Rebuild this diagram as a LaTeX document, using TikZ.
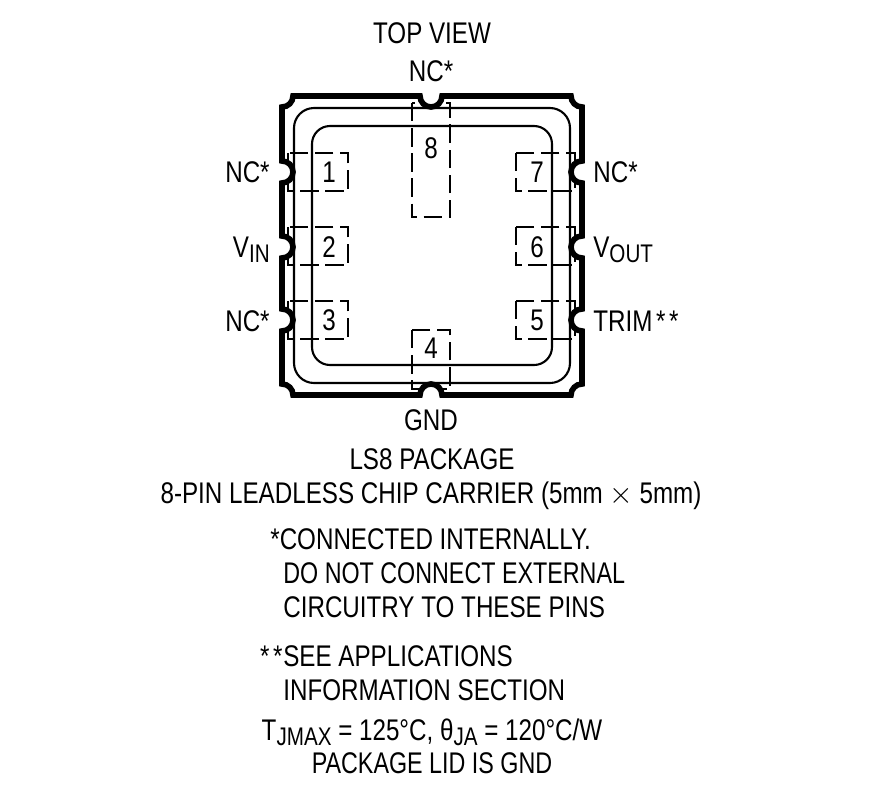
\documentclass[tikz,border=0pt]{standalone}
\usepackage{fontspec}
\setmainfont[FakeStretch=0.81]{Liberation Sans}
\newfontface\tightface[FakeStretch=0.78]{Liberation Sans}
\usepackage{tikz}
\newcommand{\drawoutline}{\draw[line width=3.2pt,line join=miter]}
\newcommand{\drawring}{\draw[line width=1.2pt]}
\newcommand{\lowtext}[1]{\raisebox{-.35ex}{\fontsize{14.5}{15}\selectfont #1}}
\newcommand{\spacedstars}{*\kern.12em*}
\newcommand{\pinbox}[5]{
    \draw[line width=1.4pt,dash pattern=on 10.5pt off 3.8pt] (#2,-#3) rectangle (#4,-#5);
}
\tikzset{
    lbl/.style={inner sep=0pt,font=\fontsize{17}{19}\selectfont,anchor=base},
    lblw/.style={lbl,anchor=base west},
    lble/.style={lbl,anchor=base east},
    pinnum/.style={inner sep=0pt,font=\fontsize{17}{19}\selectfont,anchor=center}
}

\begin{document}
\begin{tikzpicture}[x=0.02cm,y=0.02cm]
\useasboundingbox (0,0) rectangle (875,-792);
% dashed pads
\pinbox{1}{288}{153}{348}{191}
\pinbox{2}{288}{227}{348}{265}
\pinbox{3}{288}{301}{348}{339}
\pinbox{4}{412}{330}{450}{389}
\pinbox{5}{516}{301}{575}{339}
\pinbox{6}{516}{227}{575}{265}
\pinbox{7}{516}{153}{575}{191}
\pinbox{8}{412}{103}{450}{217}
% rings
\drawring (294,-128) arc[start angle=180,end angle=90,radius=20] -- (550,-108) arc[start angle=90,end angle=0,radius=20] -- (570,-363) arc[start angle=0,end angle=-90,radius=20] -- (314,-383) arc[start angle=270,end angle=180,radius=20] -- cycle;
\drawring (312,-144) arc[start angle=180,end angle=90,radius=18] -- (534,-126) arc[start angle=90,end angle=0,radius=18] -- (552,-347) arc[start angle=0,end angle=-90,radius=18] -- (330,-365) arc[start angle=270,end angle=180,radius=18] -- cycle;
% notches
\foreach \y in {172,247,320}{
    \fill[white] (283,-\y) circle (11);
    \fill[white] (581,-\y) circle (11);
}
\fill[white] (431,-97) circle (11);
\fill[white] (431,-394) circle (11);
% package outline
\drawoutline (282,-107) arc[start angle=-90,end angle=0,radius=11] -- (420,-96) arc[start angle=180,end angle=360,radius=11] -- (571,-96) arc[start angle=180,end angle=270,radius=11] -- (582,-161) arc[start angle=90,end angle=270,radius=11] -- (582,-236) arc[start angle=90,end angle=270,radius=11] -- (582,-309) arc[start angle=90,end angle=270,radius=11] -- (582,-384) arc[start angle=90,end angle=180,radius=11] -- (442,-395) arc[start angle=0,end angle=180,radius=11] -- (293,-395) arc[start angle=0,end angle=90,radius=11] -- (282,-331) arc[start angle=-90,end angle=90,radius=11] -- (282,-258) arc[start angle=-90,end angle=90,radius=11] -- (282,-183) arc[start angle=-90,end angle=90,radius=11] -- cycle;
% pin numbers
\node[pinnum] (num1) at (329,-172) {1};
\node[pinnum] (num2) at (329,-247) {2};
\node[pinnum] (num3) at (329,-320) {3};
\node[pinnum] (num4) at (431,-348) {4};
\node[pinnum] (num5) at (537,-320) {5};
\node[pinnum] (num6) at (537,-247) {6};
\node[pinnum] (num7) at (537,-172) {7};
\node[pinnum] (num8) at (431,-148) {8};
% pin names
\node[lbl] (topview) at (432,-43) {TOP VIEW};
\node[lbl] (pineight) at (431,-81) {NC*};
\node[lble] (pinone) at (270,-182) {NC*};
\node[lble] (pintwo) at (270,-257) {V\lowtext{IN}};
\node[lble] (pinthree) at (270,-331) {NC*};
\node[lblw] (pinseven) at (593,-182) {NC*};
\node[lblw] (pinsix) at (593,-257) {V\lowtext{OUT}};
\node[lblw] (pinfive) at (593,-331) {TRIM\kern.12em\spacedstars};
\node[lbl] (pinfour) at (431,-430) {GND};
% notes
\node[lbl] (pkgname) at (432,-469) {LS8 PACKAGE};
\node[lbl] (pkgdesc) at (431,-503) {8-PIN LEADLESS CHIP CARRIER (5mm\kern.22em$\times$\kern.22em5mm)};
\node[lblw] (noteone) at (270,-549) {*CONNECTED INTERNALLY.};
\node[lblw] (notetwo) at (283,-583) {\tightface DO NOT CONNECT EXTERNAL};
\node[lblw] (notethree) at (283,-617) {CIRCUITRY TO THESE PINS};
\node[lble] (stars) at (283,-666) {\spacedstars};
\node[lblw] (notefour) at (283,-666) {SEE APPLICATIONS};
\node[lblw] (notefive) at (283,-700) {INFORMATION SECTION};
\node[lbl] (thermal) at (432,-740) {T\lowtext{JMAX} = 125°C, θ\lowtext{JA} = 120°C/W};
\node[lbl] (lidnote) at (432,-773) {\tightface PACKAGE LID IS GND};
\end{tikzpicture}
\end{document}
